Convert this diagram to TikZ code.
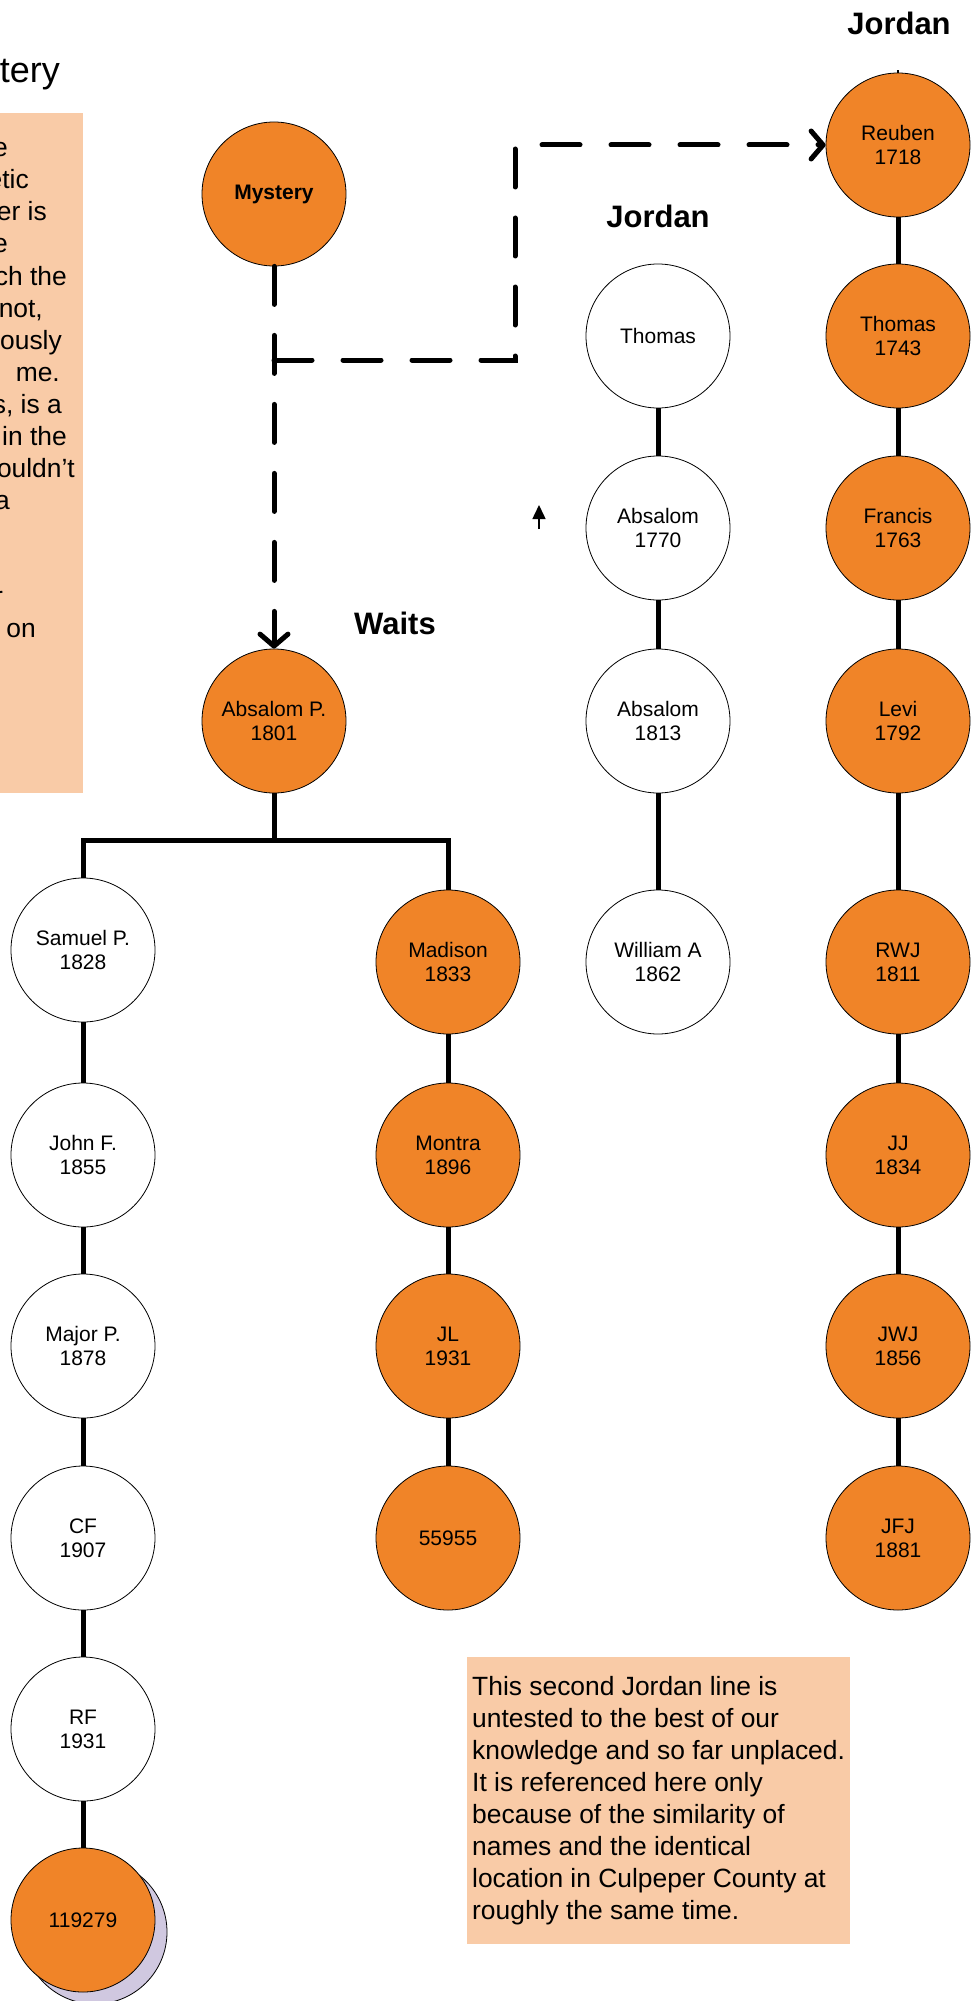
\documentclass[tikz,border=0pt]{standalone}
\usepackage{fontspec}
\setmainfont{Liberation Sans}
\usepackage{xcolor}
\usepackage{tikz}
\usetikzlibrary{arrows.meta, calc}
\definecolor{dnaorange}{HTML}{F08428}
\definecolor{notefill}{HTML}{F9CBA7}
\definecolor{twinfill}{HTML}{D0C8E0}

\begin{document}
\begin{tikzpicture}[x=1pt, y=-1pt,
  indiv/.style={circle, draw=black, line width=0.8pt, fill=white, minimum size=144pt, inner sep=0pt, align=center, font=\fontsize{21}{24}\selectfont},
  dnamatch/.style={indiv, fill=dnaorange},
  link/.style={line width=5pt},
  guess/.style={line width=5pt, line cap=round, dash pattern=on 38pt off 31pt},
  barb/.style={-{Straight Barb[length=12pt,width=28pt,round]}},
  surname/.style={inner sep=0pt, font=\bfseries\fontsize{31}{36}\selectfont},
  notebox/.style={fill=notefill, inner sep=0pt},
  notetext/.style={inner sep=0pt, font=\fontsize{26.4}{32}\selectfont}]
  \useasboundingbox (0,0) rectangle (975,2001);

  % left note, cut off by the page edge
  \node[notebox, minimum width=95pt, minimum height=680pt, anchor=north east] (leftnote) at (83,113) {};
  \node[notetext, font=\fontsize{36}{40}\selectfont, anchor=base east] (title) at (60,83) {tery};
  \node[notetext, anchor=base east] (frag1) at (8,157) {e};
  \node[notetext, anchor=base east] (frag2) at (29,189) {etic};
  \node[notetext, anchor=base east] (frag3) at (47,221) {er is};
  \node[notetext, anchor=base east] (frag4) at (8,253) {e};
  \node[notetext, anchor=base east] (frag5) at (67,285) {ch the};
  \node[notetext, anchor=base east] (frag6) at (43,317) {not,};
  \node[notetext, anchor=base east] (frag7) at (62,349) {ously};
  \node[notetext, anchor=base east] (frag8) at (60,381) {me.};
  \node[notetext, anchor=base east] (frag9) at (62,413) {s, is a};
  \node[notetext, anchor=base east] (frag10) at (67,445) {in the};
  \node[notetext, anchor=base east] (frag11) at (75,477) {ouldn’t};
  \node[notetext, anchor=base east] (frag12) at (10,509) {a};
  \node[notetext, anchor=base east] (frag13) at (3,605) {r};
  \node[notetext, anchor=base east] (frag14) at (36,637) {on};

  % surnames
  \node[surname, anchor=base] (jordantop) at (899,35) {Jordan};
  \node[surname, anchor=base] (jordanmid) at (658,228) {Jordan};
  \node[surname, anchor=base] (waits) at (395,634) {Waits};

  % Waits line
  \node[dnamatch, font=\bfseries\fontsize{21}{24}\selectfont] (mystery) at (274,194) {Mystery};
  \node[dnamatch] (absalomP) at (274,721) {Absalom P.\\1801};
  \node[indiv] (samuel) at (83,950) {Samuel P.\\1828};
  \node[indiv] (johnF) at (83,1155) {John F.\\1855};
  \node[indiv] (majorP) at (83,1346) {Major P.\\1878};
  \node[indiv] (cf) at (83,1538) {CF\\1907};
  \node[indiv] (rf) at (83,1729) {RF\\1931};
  \node[circle, draw=black, line width=0.8pt, fill=twinfill, minimum size=144pt] (twin) at (95,1932) {};
  \node[dnamatch] (kit119279) at (83,1920) {119279};
  \node[dnamatch] (madison) at (448,962) {Madison\\1833};
  \node[dnamatch] (montra) at (448,1155) {Montra\\1896};
  \node[dnamatch] (jl) at (448,1346) {JL\\1931};
  \node[dnamatch] (kit55955) at (448,1538) {55955};

  % untested Jordan line
  \node[indiv] (thomasW) at (658,336) {Thomas};
  \node[indiv] (absalom1770) at (658,528) {Absalom\\1770};
  \node[indiv] (absalom1813) at (658,721) {Absalom\\1813};
  \node[indiv] (williamA) at (658,962) {William A\\1862};

  % tested Jordan line
  \node[dnamatch] (reuben) at (898,145) {Reuben\\1718};
  \node[dnamatch] (thomas) at (898,336) {Thomas\\1743};
  \node[dnamatch] (francis) at (898,528) {Francis\\1763};
  \node[dnamatch] (levi) at (898,721) {Levi\\1792};
  \node[dnamatch] (rwj) at (898,962) {RWJ\\1811};
  \node[dnamatch] (jj) at (898,1155) {JJ\\1834};
  \node[dnamatch] (jwj) at (898,1346) {JWJ\\1856};
  \node[dnamatch] (jfj) at (898,1538) {JFJ\\1881};

  \node[notebox, notetext, anchor=north west, inner xsep=5pt, inner ysep=19pt, align=left] (jordannote) at (467,1657)
    {This second Jordan line is\\untested to the best of our\\knowledge and so far unplaced.\\It is referenced here only\\because of the similarity of\\names and the identical\\location in Culpeper County at\\roughly the same time.};

  % connectors
  \coordinate (split) at (274,360);
  \coordinate (turn) at (515,360);
  \coordinate (fork) at (274,840);
  \draw[guess, barb] (mystery.south) -- (absalomP.north);
  \draw[guess, barb] (split) -- (turn) |- (reuben.west);
  \draw[link] (absalomP.south) -- (fork);
  \draw[link] (samuel.north) |- (fork) -| (madison.north);
  \draw[link] (samuel) -- (johnF) -- (majorP) -- (cf) -- (rf) -- (kit119279);
  \draw[link] (madison) -- (montra) -- (jl) -- (kit55955);
  \draw[link] (thomasW) -- (absalom1770) -- (absalom1813) -- (williamA);
  \draw[link] (reuben) -- (thomas) -- (francis) -- (levi) -- (rwj) -- (jj) -- (jwj) -- (jfj);
  \draw[line width=2pt] (reuben.north) -- ++(0,-3);

  \coordinate (strayfoot) at (539,529);
  \coordinate (straytip) at (539,505);
  \draw[line width=1.5pt, -{Triangle[width=13pt,length=14pt]}] (strayfoot) -- (straytip);
\end{tikzpicture}
\end{document}
